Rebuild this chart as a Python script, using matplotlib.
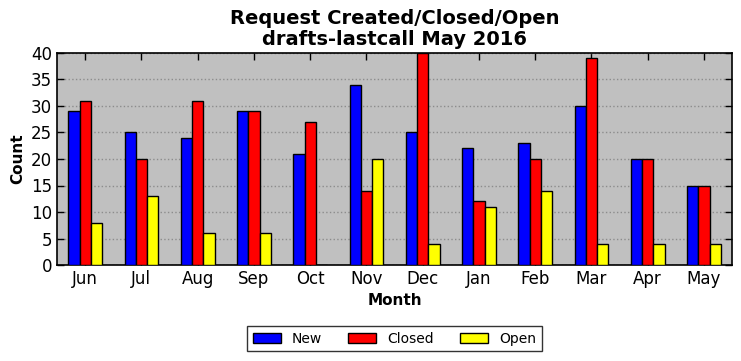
import numpy as np
import matplotlib
matplotlib.use('Agg')
from matplotlib import pyplot as plt

months = ['Jun', 'Jul', 'Aug', 'Sep', 'Oct', 'Nov', 'Dec', 'Jan', 'Feb', 'Mar', 'Apr', 'May']
new = [29, 25, 24, 29, 21, 34, 25, 22, 23, 30, 20, 15]
closed = [31, 20, 31, 29, 27, 14, 40, 12, 20, 39, 20, 15]
opened = [8, 13, 6, 6, 0, 20, 4, 11, 14, 4, 4, 4]

plt.rcParams['font.family'] = 'DejaVu Sans'
fig = plt.figure(figsize=(7.41, 3.61), dpi=100)
ax = fig.add_axes([57/741, 1 - 265/361, 675/741, 212/361])
ax.set_facecolor('#c0c0c0')

x = np.arange(len(months))
w = 0.2
ax.bar(x - w, new, w, color='blue', edgecolor='black', linewidth=1, label='New', zorder=3)
ax.bar(x, closed, w, color='red', edgecolor='black', linewidth=1, label='Closed', zorder=3)
ax.bar(x + w, opened, w, color='yellow', edgecolor='black', linewidth=1, label='Open', zorder=3)

ax.set_xlim(-0.5, 11.5)
ax.set_ylim(0, 40)
ax.set_xticks(x)
ax.set_xticklabels(months, fontsize=12)
ax.set_yticks(range(0, 41, 5))
ax.tick_params(axis='y', labelsize=12)
ax.tick_params(direction='in', top=True, right=True, length=5, width=1)
ax.yaxis.grid(True, linestyle=':', color='#8c8c8c', linewidth=1, zorder=0)
ax.set_axisbelow(True)
for s in ax.spines.values():
    s.set_linewidth(1.2)

ax.set_xlabel('Month', fontsize=11, fontweight='bold')
ax.set_ylabel('Count', fontsize=11, fontweight='bold')
ax.set_title('Request Created/Closed/Open\ndrafts-lastcall May 2016', fontsize=14, fontweight='bold', linespacing=1.1)

leg = ax.legend(loc='upper center', bbox_to_anchor=(0.5, -0.255), ncol=3, fontsize=10,
                frameon=True, fancybox=False, edgecolor='black', handlelength=2.0,
                columnspacing=1.9, borderpad=0.4)
leg.get_frame().set_linewidth(1)

plt.savefig('out.png', dpi=100)
